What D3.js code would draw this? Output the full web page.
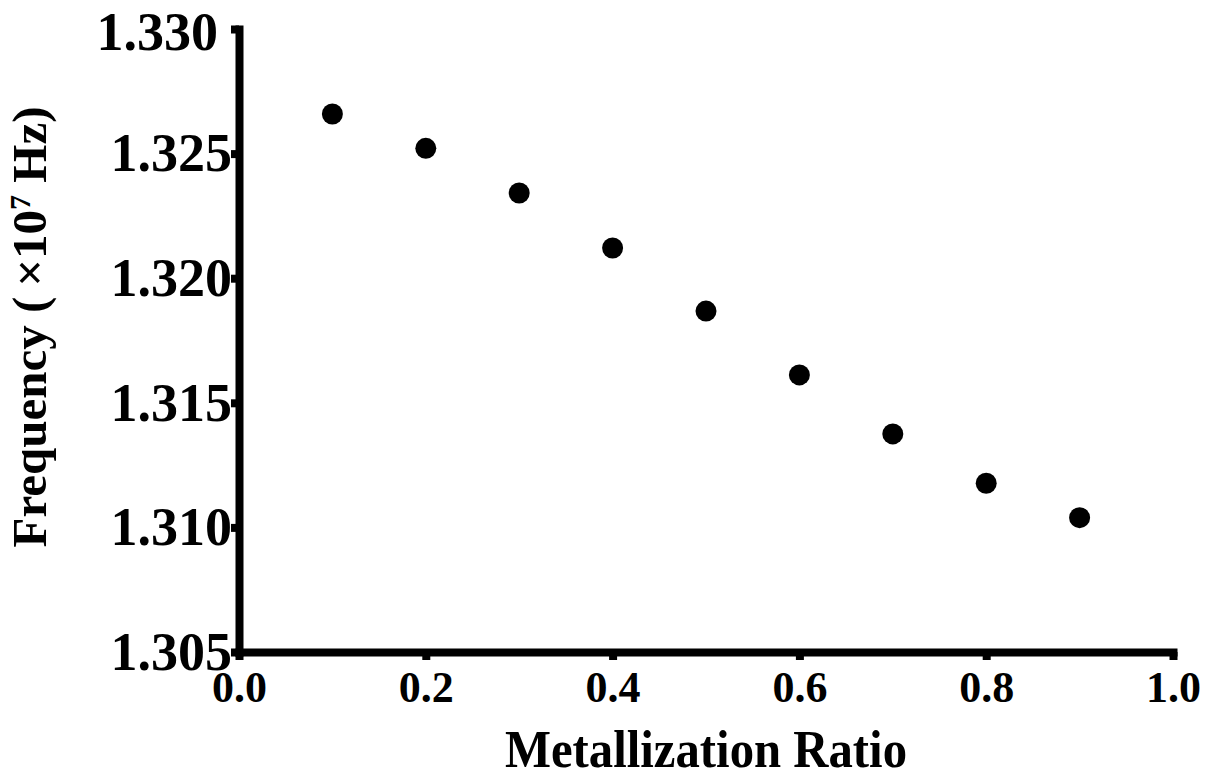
<!DOCTYPE html>
<html>
<head>
<meta charset="utf-8">
<script src="https://cdn.jsdelivr.net/npm/d3@7"></script>
<style>
  html, body { margin: 0; padding: 0; background: #fff; }
  svg { display: block; font-family: "Liberation Serif", "Times New Roman", serif; font-weight: bold; }
</style>
</head>
<body>
<svg id="chart" width="1207" height="773"></svg>
<script>
// Resonant frequency vs. metallization ratio (frequency in units of 10^7 Hz)
const ratios = [0.1, 0.2, 0.3, 0.4, 0.5, 0.6, 0.7, 0.8, 0.9];
const frequencies = [1.32659, 1.32521, 1.32342, 1.32121, 1.31868, 1.31612, 1.31375, 1.31177, 1.31039];
const xTicks = [0.0, 0.2, 0.4, 0.6, 0.8, 1.0];
const yTicks = [1.305, 1.310, 1.315, 1.320, 1.325, 1.330];

const svg = d3.select("#chart");

const x = d3.scaleLinear().domain([0, 1]).range([239, 1173]);
const y = d3.scaleLinear().domain([1.305, 1.330]).range([652, 29]);

const axisStroke = 8;

// Y axis
const yAxis = svg.append("g")
  .attr("transform", `translate(${x(0)},0)`)
  .call(d3.axisLeft(y).tickValues(yTicks).tickFormat(d3.format(".3f"))
    .tickSize(8).tickSizeOuter(0).tickPadding(-1));

// X axis
const xAxis = svg.append("g")
  .attr("transform", `translate(0,${y(1.305)})`)
  .call(d3.axisBottom(x).tickValues(xTicks).tickFormat(d3.format(".1f"))
    .tickSize(8).tickSizeOuter(0).tickPadding(11));

[yAxis, xAxis].forEach(g => {
  g.attr("font-family", null).attr("font-size", null);
  g.select(".domain").attr("stroke", "#000").attr("stroke-width", axisStroke)
    .attr("stroke-linecap", "square");
  g.selectAll(".tick line").attr("stroke", "#000").attr("stroke-width", axisStroke);
  g.selectAll(".tick text").attr("fill", "#000");
});
yAxis.selectAll(".tick text").style("font-size", "54px");
xAxis.selectAll(".tick text").style("font-size", "44px");
// the topmost label sits a little left of and below its tick
yAxis.selectAll(".tick text").filter(d => d === 1.330)
  .attr("x", -21).attr("dy", "0.38em");

// Data points
svg.append("g")
  .selectAll("circle")
  .data(ratios.map((r, i) => ({ r, f: frequencies[i] })))
  .join("circle")
  .attr("cx", d => x(d.r))
  .attr("cy", d => y(d.f))
  .attr("r", 10.5)
  .attr("fill", "#000");

// Axis titles
const xMid = (x(0) + x(1)) / 2;
svg.append("text")
  .attr("transform", `translate(${xMid},767) scale(0.92,1)`)
  .attr("text-anchor", "middle")
  .style("font-size", "53px")
  .attr("fill", "#000")
  .text("Metallization Ratio");

const yTitle = svg.append("text")
  .attr("transform", "translate(46,327) rotate(-90)")
  .attr("text-anchor", "middle")
  .style("font-size", "49px")
  .attr("fill", "#000");
yTitle.append("tspan").text("Frequency (\u2009\u00D710");
yTitle.append("tspan").attr("dy", "-0.55em").style("font-size", "30px").text("7");
yTitle.append("tspan").attr("dy", "0.34em").text(" Hz)");
</script>
</body>
</html>
